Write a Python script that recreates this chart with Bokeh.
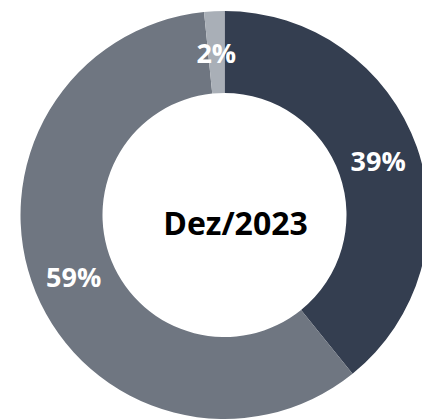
import math
from bokeh.plotting import figure
from bokeh.models import ColumnDataSource
from bokeh.core.properties import value
from bokeh.embed import file_html
from bokeh.resources import INLINE

# Data
categories = ["A", "B", "C"]
shares = [39.2, 59.2, 1.6]
labels = ["39%", "59%", "2%"]
colors = ["#343E50", "#6F7681", "#A9AFB7"]
center_label = "Dez/2023"

W, H = 422, 419
cx, cy = 224, H - 214.5
r_out, r_in = 204, 122

total = sum(shares)
starts, ends, lx, ly = [], [], [], []
cum = 0.0
for s in shares:
    a0 = math.pi / 2 - 2 * math.pi * cum / total
    a1 = math.pi / 2 - 2 * math.pi * (cum + s) / total
    starts.append(a0)
    ends.append(a1)
    mid = (a0 + a1) / 2
    rm = (r_out + r_in) / 2
    lx.append(cx + rm * math.cos(mid))
    ly.append(cy + rm * math.sin(mid))
    cum += s

src = ColumnDataSource(dict(cat=categories, start=starts, end=ends,
                            color=colors, lx=lx, ly=ly, label=labels))

p = figure(width=W, height=H, x_range=(0, W), y_range=(0, H),
           output_backend="svg", toolbar_location=None, min_border=0)
p.axis.visible = False
p.grid.visible = False
p.outline_line_color = None
p.background_fill_color = "white"

p.annular_wedge(x=cx, y=cy, inner_radius=r_in, outer_radius=r_out,
                start_angle="start", end_angle="end", direction="clock",
                fill_color="color", line_color=None, source=src)

p.text(x="lx", y="ly", text="label", source=src, text_color="white",
       text_font=value("Open Sans"), text_font_style="bold",
       text_font_size="27px", text_align="center", text_baseline="middle")

p.text(x=[235], y=[H - 222], text=[center_label], text_color="black",
       text_font=value("Open Sans"), text_font_style="bold",
       text_font_size="32px", text_align="center", text_baseline="middle")

open("out.html", "w").write(file_html(p, INLINE))
